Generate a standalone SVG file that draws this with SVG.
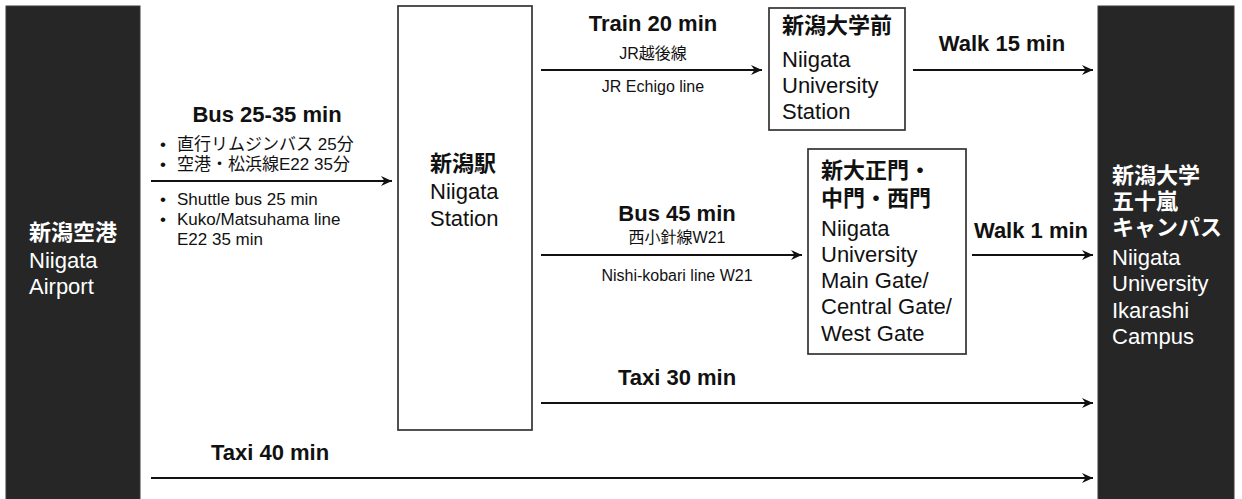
<svg xmlns="http://www.w3.org/2000/svg" width="1242" height="499" viewBox="0 0 1242 499">
<defs>
<style>
.t{font-family:"Liberation Sans","Noto Sans CJK JP",sans-serif;fill:#111}
.b{font-weight:bold}
.lbl{font-size:22px;font-weight:bold}
.sm{font-size:16px}
.bl{font-size:17px}
.nd{font-size:22px}
.w{fill:#fff}
.dark{fill:#262626;stroke:#3a3a3a;stroke-width:1}
.box{fill:#fff;stroke:#333;stroke-width:1.7}
.c{stroke:#111;stroke-width:1.8;fill:none;marker-end:url(#ah)}
</style>
<marker id="ah" markerUnits="userSpaceOnUse" markerWidth="14" markerHeight="14" refX="12" refY="7" orient="auto">
<path d="M1,2 L12,7 L1,12 L4.5,7 Z" fill="#111"/>
</marker>
</defs>
<rect width="1242" height="499" fill="#fff"/>

<g id="airport">
<rect class="dark" x="6" y="6" width="134" height="500"/>
<text class="t w" x="29" y="240"><tspan class="nd b" x="29">新潟空港</tspan><tspan class="nd" x="29" y="268">Niigata</tspan><tspan class="nd" x="29" y="294">Airport</tspan></text>
</g>

<g id="niigata-station">
<rect class="box" x="398" y="6" width="134" height="424"/>
<text class="t nd" x="430" y="171"><tspan class="b" x="430">新潟駅</tspan><tspan x="430" y="199">Niigata</tspan><tspan x="430" y="226">Station</tspan></text>
</g>

<g id="uni-station">
<rect class="box" x="769" y="8" width="136" height="122"/>
<text class="t nd" x="782" y="33"><tspan class="b" x="782">新潟大学前</tspan><tspan x="782" y="67">Niigata</tspan><tspan x="782" y="93">University</tspan><tspan x="782" y="119">Station</tspan></text>
</g>

<g id="gates">
<rect class="box" x="808" y="149" width="158" height="205"/>
<text class="t nd" x="821" y="178"><tspan class="b" x="821">新大正門・</tspan><tspan class="b" x="821" y="206">中門・西門</tspan><tspan x="821" y="236">Niigata</tspan><tspan x="821" y="262">University</tspan><tspan x="821" y="288">Main Gate/</tspan><tspan x="821" y="314">Central Gate/</tspan><tspan x="821" y="341">West Gate</tspan></text>
</g>

<g id="campus">
<rect class="dark" x="1098" y="6" width="136" height="500"/>
<text class="t w nd" x="1112" y="183"><tspan class="b" x="1112">新潟大学</tspan><tspan class="b" x="1112" y="209">五十嵐</tspan><tspan class="b" x="1112" y="235">キャンパス</tspan><tspan x="1112" y="265">Niigata</tspan><tspan x="1112" y="291">University</tspan><tspan x="1112" y="318">Ikarashi</tspan><tspan x="1112" y="344">Campus</tspan></text>
</g>

<g id="connectors">
<line class="c" x1="151" y1="181" x2="392" y2="181"/>
<line class="c" x1="541" y1="70" x2="762" y2="70"/>
<line class="c" x1="913" y1="70" x2="1093" y2="70"/>
<line class="c" x1="541" y1="255" x2="802" y2="255"/>
<line class="c" x1="972" y1="255" x2="1093" y2="255"/>
<line class="c" x1="541" y1="403" x2="1093" y2="403"/>
<line class="c" x1="151" y1="478" x2="1093" y2="478"/>

<text class="t lbl" x="267" y="122" text-anchor="middle">Bus 25-35 min</text>
<text class="t bl" x="160" y="150"><tspan x="160">•</tspan><tspan x="177">直行リムジンバス 25分</tspan></text>
<text class="t bl" x="160" y="170"><tspan x="160">•</tspan><tspan x="177">空港・松浜線E22 35分</tspan></text>
<text class="t bl" x="160" y="205"><tspan x="160">•</tspan><tspan x="177">Shuttle bus 25 min</tspan></text>
<text class="t bl" x="160" y="225"><tspan x="160">•</tspan><tspan x="177">Kuko/Matsuhama line</tspan></text>
<text class="t bl" x="177" y="245">E22 35 min</text>

<text class="t lbl" x="653" y="31" text-anchor="middle">Train 20 min</text>
<text class="t sm" x="653" y="59" text-anchor="middle">JR越後線</text>
<text class="t sm" x="653" y="92" text-anchor="middle">JR Echigo line</text>

<text class="t lbl" x="1002" y="51" text-anchor="middle">Walk 15 min</text>

<text class="t lbl" x="677" y="221" text-anchor="middle">Bus 45 min</text>
<text class="t sm" x="677" y="243" text-anchor="middle">西小針線W21</text>
<text class="t sm" x="677" y="281" text-anchor="middle">Nishi-kobari line W21</text>

<text class="t lbl" x="1031" y="238" text-anchor="middle">Walk 1 min</text>

<text class="t lbl" x="677" y="385" text-anchor="middle">Taxi 30 min</text>
<text class="t lbl" x="270" y="460" text-anchor="middle">Taxi 40 min</text>
</g>
</svg>
